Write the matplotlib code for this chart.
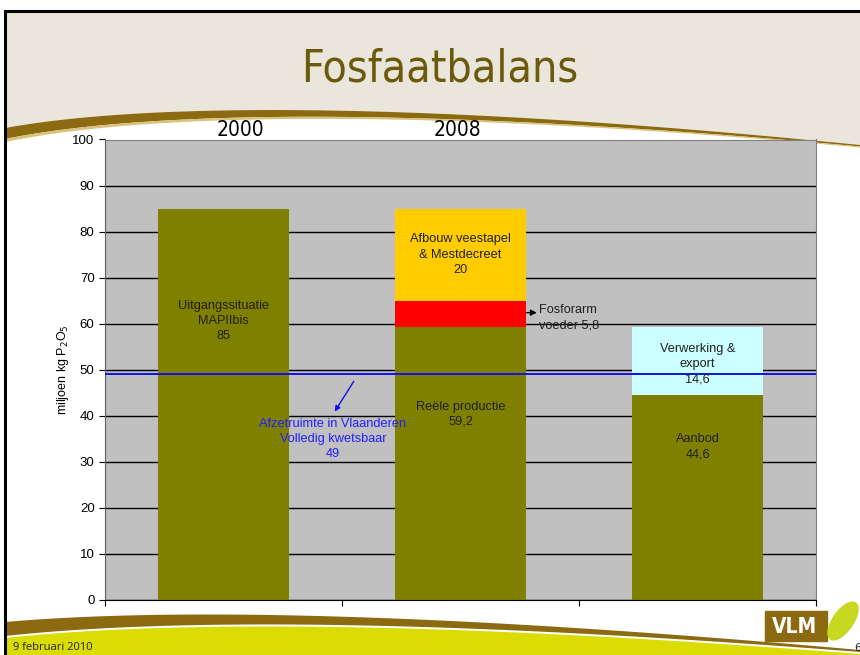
import numpy as np
import matplotlib
matplotlib.use("Agg")
import matplotlib.pyplot as plt
from matplotlib.patches import Rectangle, Ellipse

# ---------------- data ----------------
categories = ["2000", "2008", "na verwerking"]
base_values = [85, 59.2, 44.6]          # olive (base) segments
red_values = [0, 5.8, 0]                # Fosforarm voeder
yellow_values = [0, 20, 0]              # Afbouw veestapel & Mestdecreet
cyan_values = [0, 0, 14.6]              # Verwerking & export
afzet_line = 49
year_labels = ["2000", "2008"]
y_ticks = [0, 10, 20, 30, 40, 50, 60, 70, 80, 90, 100]

W, H = 860, 655
fig = plt.figure(figsize=(W / 100, H / 100), dpi=100)
fig.patch.set_facecolor("white")

# ---------------- slide decoration (background axes in pixel coords) ----------------
bg = fig.add_axes([0, 0, 1, 1], zorder=0)
bg.set_xlim(0, W)
bg.set_ylim(H, 0)
bg.axis("off")


def bez(p0, p1, p2, p3, n=200):
    t = np.linspace(0, 1, n)[:, None]
    return ((1 - t) ** 3) * np.array(p0) + 3 * ((1 - t) ** 2) * t * np.array(p1) + \
        3 * (1 - t) * t ** 2 * np.array(p2) + t ** 3 * np.array(p3)


# top beige region
top_curve = bez((5, 128), (160, 100), (450, 104), (860, 145))
poly = np.vstack([[(5, 12), (860, 12)], top_curve[::-1]])
bg.fill(poly[:, 0], poly[:, 1], color="#EAE6DC", zorder=1, lw=0)
# brown swoosh at top
thick = np.linspace(11, 1.5, len(top_curve))
upper = top_curve.copy()
lower = top_curve.copy()
lower[:, 1] += thick
pts = np.vstack([upper, lower[::-1]])
bg.fill(pts[:, 0], pts[:, 1], color="#8C6A12", zorder=2, lw=0)
gold = lower.copy()
gold2 = lower.copy()
gold2[:, 1] += np.linspace(3, 1, len(lower))
pts = np.vstack([gold, gold2[::-1]])
bg.fill(pts[:, 0], pts[:, 1], color="#D9C27A", zorder=2, lw=0)

# bottom yellow band and brown swoosh
bot_curve = bez((5, 622), (200, 605), (500, 618), (860, 650))
bthick = np.linspace(14, 2, len(bot_curve))
bupper = bot_curve.copy()
blower = bot_curve.copy()
blower[:, 1] += bthick
ylow = blower.copy()
ylow[:, 1] += 2
ypoly = np.vstack([ylow, [(860, 655), (5, 655)]])
bg.fill(ypoly[:, 0], ypoly[:, 1], color="#DCDC05", zorder=1, lw=0)
pts = np.vstack([bupper, blower[::-1]])
bg.fill(pts[:, 0], pts[:, 1], color="#8C6A12", zorder=2, lw=0)

# slide frame
bg.plot([5, 5], [11, 655], color="black", lw=2.2, zorder=3)
bg.plot([5, 860], [11, 11], color="black", lw=2.2, zorder=3)

# VLM logo
bg.add_patch(Rectangle((765, 611), 62, 30, color="#8C6A12", zorder=3))
bg.text(795, 627, "VLM", color="white", fontsize=15, fontweight="bold",
        ha="center", va="center", family=["DejaVu Sans"], fontstretch="condensed", zorder=4)
bg.add_patch(Ellipse((843, 621), 20, 44, angle=35, color="#C8D820", zorder=4))

bg.text(13, 648, "9 februari 2010", fontsize=8, color="#222222",
        va="center", ha="left", family=["Open Sans", "DejaVu Sans"], zorder=4)
bg.text(858, 648, "6", fontsize=8, color="#222222", va="center", ha="center", zorder=4)

# title
bg.text(440, 69, "Fosfaatbalans", fontsize=32, color="#6B5A0B", ha="center",
        va="center", family=["DejaVu Sans"], fontstretch="condensed", zorder=4)

# year labels
for xp, lab in zip([240, 457], year_labels):
    bg.text(xp, 130, lab, fontsize=15, color="black", ha="center", va="center",
            family=["DejaVu Sans"], fontstretch="condensed", zorder=4)

# ---------------- chart ----------------
left, right, top, bottom = 105, 816, 139.5, 600
ax = fig.add_axes([left / W, 1 - bottom / H, (right - left) / W, (bottom - top) / H], zorder=2)
ax.set_facecolor("#C0C0C0")

x = np.arange(len(categories))
bw = 0.55
olive, red, yellow, cyan = "#808000", "#FF0000", "#FFCC00", "#CCFFFF"
b0 = np.array(base_values, dtype=float)
b1 = b0 + np.array(red_values)
b2 = b1 + np.array(yellow_values)
ax.bar(x, base_values, bw, color=olive, zorder=2)
ax.bar(x, red_values, bw, bottom=b0, color=red, zorder=2)
ax.bar(x, yellow_values, bw, bottom=b1, color=yellow, zorder=2)
ax.bar(x, cyan_values, bw, bottom=b2, color=cyan, zorder=2)

ax.set_xlim(-0.5, 2.5)
ax.set_ylim(0, 100)
ax.set_yticks(y_ticks)
ax.set_yticklabels([str(v) for v in y_ticks], fontsize=9.5, family="Liberation Sans")
ax.yaxis.grid(True, color="black", lw=1.0, zorder=1)
ax.set_axisbelow(True)
ax.set_xticks([-0.5, 0.5, 1.5, 2.5])
ax.set_xticklabels([])
ax.tick_params(axis="both", direction="out", length=4, width=0.8, color="black")
for s in ["top", "right"]:
    ax.spines[s].set_color("#808080")
ax.spines["left"].set_color("#606060")
ax.spines["bottom"].set_color("black")
ax.set_ylabel("miljoen kg P$_2$O$_5$", fontsize=9, family="Liberation Sans", labelpad=1)

ax.axhline(afzet_line, color="#1010F0", lw=1.4, zorder=3)

lf = dict(fontsize=9.2, family="Liberation Sans", ha="center", va="center",
          linespacing=1.35, zorder=4)
ax.text(0, 60.6, "Uitgangssituatie\nMAPIIbis\n%s" % format(base_values[0], "g"), color="#202000", **lf)
ax.text(1, 75.0, "Afbouw veestapel\n& Mestdecreet\n%s" % format(yellow_values[1], "g"), color="#202020", **lf)
ax.text(1, 40.3, "Reële productie\n%s" % format(base_values[1], "g").replace(".", ","), color="#202020", **lf)
ax.text(2, 51.2, "Verwerking &\nexport\n%s" % format(cyan_values[2], "g").replace(".", ","), color="#202020", **lf)
ax.text(2, 33.3, "Aanbod\n%s" % format(base_values[2], "g").replace(".", ","), color="#202020", **lf)

lf2 = dict(lf)
lf2["ha"] = "left"
ax.text(1.33, 61.3, "Fosforarm\nvoeder %s" % format(red_values[1], "g").replace(".", ","),
        color="#202020", **lf2)
ax.annotate("", xy=(1.322, 62.4), xytext=(1.276, 62.4),
            arrowprops=dict(arrowstyle="-|>", color="black", lw=0.9, mutation_scale=9,
                            shrinkA=0, shrinkB=0), zorder=4)

ax.text(0.462, 35.0, "Afzetruimte in Vlaanderen\nVolledig kwetsbaar\n%d" % afzet_line,
        color="#2020FF", **lf)
ax.annotate("", xy=(0.463, 40.4), xytext=(0.556, 48.0),
            arrowprops=dict(arrowstyle="-|>", color="#1010F0", lw=1.0, mutation_scale=8), zorder=4)

fig.savefig("out.png", dpi=100, facecolor=fig.get_facecolor())
